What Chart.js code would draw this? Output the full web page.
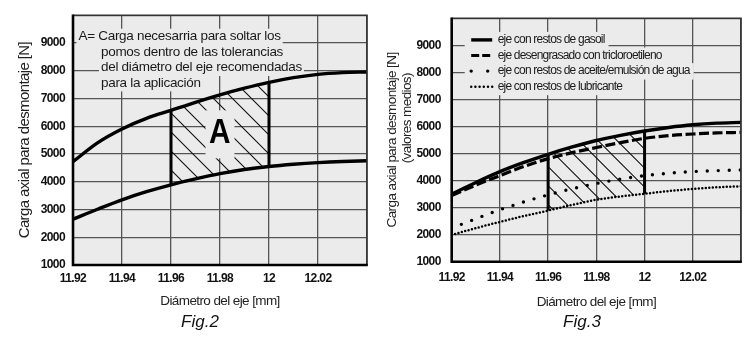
<!DOCTYPE html>
<html><head><meta charset="utf-8">
<script src="https://cdn.jsdelivr.net/npm/chart.js@4.4.1/dist/chart.umd.min.js"></script>
<style>
html,body{margin:0;padding:0;background:#fff;width:750px;height:338px;overflow:hidden;}
.wrap{position:absolute;top:0;width:375px;height:338px;}
.cap{position:absolute;top:312px;font:italic 17px "Liberation Sans",Arial,sans-serif;color:#111;transform:translateX(-50%);line-height:20px;}
</style></head><body>
<div class="wrap" style="left:0"><canvas id="c2" width="375" height="338"></canvas></div>
<div class="wrap" style="left:375px"><canvas id="c3" width="375" height="338"></canvas></div>
<div class="cap" style="left:200px">Fig.2</div>
<div class="cap" style="left:582px">Fig.3</div>
<script>
// ---- data ----
const diameters = [11.92, 11.93, 11.94, 11.95, 11.96, 11.97, 11.98, 11.99, 12.00, 12.01, 12.02, 12.03, 12.04];
const xTickValues = [11.92, 11.94, 11.96, 11.98, 12.00, 12.02, 12.04];
const xTickLabels = ['11.92', '11.94', '11.96', '11.98', '12', '12.02', ''];
const yTickValues = [1000, 2000, 3000, 4000, 5000, 6000, 7000, 8000, 9000, 10000];
const yTickLabels = ['1000', '2000', '3000', '4000', '5000', '6000', '7000', '8000', '9000', ''];

// Fig.2
const fig2Upper = [4720, 5400, 5900, 6280, 6570, 6860, 7130, 7370, 7580, 7750, 7870, 7930, 7955];
const fig2Lower = [2650, 3010, 3350, 3640, 3890, 4100, 4290, 4440, 4550, 4630, 4690, 4730, 4755];
const fig2Tolerance = [11.96, 12.00];
const fig2Note = ['A= Carga necesarria para soltar los', 'pomos dentro de las tolerancias', 'del diámetro del eje recomendadas', 'para la aplicación'];
const fig2AreaLabel = 'A';

// Fig.3
const fig3Labels = ['eje con restos de gasoil', 'eje desengrasado con tricloroetileno', 'eje con restos de aceite/emulsión de agua', 'eje con restos de lubricante'];
const fig3Gasoil = [3500, 3930, 4330, 4670, 4970, 5240, 5480, 5670, 5830, 5960, 6060, 6120, 6150];
const fig3Tricloro = [3450, 3830, 4180, 4520, 4810, 5030, 5220, 5400, 5560, 5660, 5720, 5760, 5780];
const fig3AceiteX = [11.924, 11.94, 11.96, 11.98, 12.00, 12.02, 12.04];
const fig3Aceite = [2380, 2920, 3470, 3890, 4180, 4330, 4390];
const fig3Lubricante = [1990, 2240, 2470, 2690, 2890, 3100, 3290, 3410, 3510, 3610, 3690, 3750, 3790];
const fig3Tolerance = [11.96, 12.00];
const fig3YTitle = ['Carga axial para desmontaje [N]', '(valores medios)'];

// ---- helpers ----
const SANS = "'Liberation Sans', Arial, sans-serif";
const PLOT_BG = '#ebebeb';
const LS = '-0.6px';
const pts = (xs, ys) => xs.map((x, i) => ({x, y: ys[i]}));
const vline = (x, xs, lo, hi) => { const i = xs.findIndex(v => Math.abs(v - x) < 1e-9); return [{x, y: lo[i]}, {x, y: hi[i]}]; };

function scales(opt) {
  return {
    x: {
      type: 'linear', min: xTickValues[0], max: xTickValues[xTickValues.length - 1],
      afterBuildTicks: s => { s.ticks = xTickValues.map(v => ({value: v})); },
      afterFit: s => { s.height = opt.xH; },
      grid: {color: '#555', lineWidth: 1.3, drawTicks: false},
      border: {display: false},
      ticks: {padding: opt.xPad, color: '#111', maxRotation: 0, autoSkip: false,
        font: {family: SANS, size: 12, weight: 'bold'},
        callback: (v, i) => xTickLabels[i]},
      title: {display: true, text: 'Diámetro del eje [mm]', color: '#222',
        font: {family: SANS, size: 13.5}, padding: {top: 0, bottom: opt.xTitlePad}}
    },
    y: {
      type: 'linear', min: yTickValues[0], max: yTickValues[yTickValues.length - 1],
      afterBuildTicks: s => { s.ticks = yTickValues.map(v => ({value: v})); },
      afterFit: s => { s.width = opt.yW; },
      grid: {color: '#555', lineWidth: 1.3, drawTicks: false},
      border: {display: false},
      ticks: {padding: opt.yPad, color: '#111', autoSkip: false,
        font: {family: SANS, size: 12, weight: 'bold'},
        callback: (v, i) => yTickLabels[i]},
      title: {display: true, text: opt.yTitle, color: '#222',
        font: {family: SANS, size: opt.yTitleSize, lineHeight: 1.0}, padding: {top: opt.yTitlePad, bottom: 0}}
    }
  };
}

const spacingPlugin = {
  id: 'tightText',
  beforeUpdate(c) { c.ctx.letterSpacing = LS; },
  beforeLayout(c) { c.ctx.letterSpacing = LS; },
  beforeDraw(c) { c.ctx.letterSpacing = LS; }
};

const bgPlugin = {
  id: 'plotBg',
  beforeDraw(chart) {
    const {ctx, chartArea: a} = chart;
    ctx.save(); ctx.fillStyle = PLOT_BG; ctx.fillRect(a.left, a.top, a.right - a.left, a.bottom - a.top); ctx.restore();
  },
  afterDatasetsDraw(chart) {
    const {ctx, chartArea: a} = chart;
    ctx.save();
    ctx.strokeStyle = '#333'; ctx.lineWidth = 1.6;
    ctx.beginPath(); ctx.moveTo(a.left, a.top); ctx.lineTo(a.right, a.top); ctx.lineTo(a.right, a.bottom); ctx.stroke();
    ctx.strokeStyle = '#000'; ctx.lineWidth = 2.6;
    ctx.beginPath(); ctx.moveTo(a.left, a.top - 0.8); ctx.lineTo(a.left, a.bottom); ctx.lineTo(a.right + 0.8, a.bottom); ctx.stroke();
    ctx.restore();
  }
};

function hatch(chart, upIdx, loIdx, x0, x1, spacing) {
  const {ctx, chartArea: a} = chart;
  const xs = chart.scales.x;
  const up = chart.getDatasetMeta(upIdx).dataset, lo = chart.getDatasetMeta(loIdx).dataset;
  up.updateControlPoints(a, 'x'); lo.updateControlPoints(a, 'x');
  const p0 = xs.getPixelForValue(x0), p1 = xs.getPixelForValue(x1);
  ctx.save();
  ctx.beginPath(); ctx.rect(p0, a.top, p1 - p0, a.bottom - a.top); ctx.clip();
  ctx.beginPath(); up.path(ctx); ctx.lineTo(a.right + 20, a.bottom + 20); ctx.lineTo(a.left - 20, a.bottom + 20); ctx.closePath(); ctx.clip();
  ctx.beginPath(); lo.path(ctx); ctx.lineTo(a.right + 20, a.top - 20); ctx.lineTo(a.left - 20, a.top - 20); ctx.closePath(); ctx.clip();
  const h = a.bottom - a.top;
  ctx.beginPath();
  for (let s = p0 - h; s < p1 + 5; s += spacing) { ctx.moveTo(s, a.top); ctx.lineTo(s + h, a.bottom); }
  ctx.strokeStyle = '#111'; ctx.lineWidth = 1.1; ctx.stroke();
  ctx.restore();
}

function maskText(ctx, text, x, y, padL, padR) {
  const w = ctx.measureText(text).width;
  ctx.fillStyle = PLOT_BG;
  ctx.fillRect(x - padL, y - 8, w + padL + padR, 16.5);
}

// ---- Fig.2 ----
const fig2Plugin = {
  id: 'fig2Extras',
  beforeDatasetsDraw(chart) {
    const {ctx, chartArea: a} = chart;
    const lines = fig2Note.map((t, i) => ({t, x: a.left + (i === 0 ? 5.5 : 28), y: a.top + 21.5 + i * 15.4}));
    ctx.save();
    ctx.font = '13.5px ' + SANS; ctx.letterSpacing = '-0.3px';
    lines.forEach(l => maskText(ctx, l.t, l.x, l.y, 2, 2));
    ctx.fillStyle = '#1a1a1a'; ctx.textBaseline = 'middle';
    lines.forEach(l => ctx.fillText(l.t, l.x, l.y));
    ctx.restore();
    hatch(chart, 0, 1, fig2Tolerance[0], fig2Tolerance[1], 19);
    const cx = chart.scales.x.getPixelForValue((fig2Tolerance[0] + fig2Tolerance[1]) / 2) - 0.5;
    const cy = chart.scales.y.getPixelForValue(5780);
    ctx.save();
    ctx.fillStyle = PLOT_BG; ctx.fillRect(cx - 14, cy - 22, 29, 48);
    ctx.fillStyle = '#000'; ctx.font = 'bold 35px ' + SANS; ctx.textAlign = 'center'; ctx.textBaseline = 'middle';
    ctx.fillText(fig2AreaLabel, cx, cy + 1, 21);
    ctx.restore();
  }
};

new Chart(document.getElementById('c2'), {
  type: 'line',
  data: {datasets: [
    {label: 'límite superior', data: pts(diameters, fig2Upper), borderColor: '#000', borderWidth: 3.4, pointRadius: 0, cubicInterpolationMode: 'monotone'},
    {label: 'límite inferior', data: pts(diameters, fig2Lower), borderColor: '#000', borderWidth: 3.4, pointRadius: 0, cubicInterpolationMode: 'monotone'},
    {label: 'tolerancia min', data: vline(fig2Tolerance[0], diameters, fig2Lower, fig2Upper), borderColor: '#000', borderWidth: 3, pointRadius: 0},
    {label: 'tolerancia max', data: vline(fig2Tolerance[1], diameters, fig2Lower, fig2Upper), borderColor: '#000', borderWidth: 3, pointRadius: 0}
  ]},
  options: {
    responsive: false, animation: false, devicePixelRatio: 1,
    layout: {padding: {top: 15, right: 8, bottom: 0, left: 0}},
    plugins: {legend: {display: false}, tooltip: {enabled: false}},
    scales: scales({xH: 73, yW: 73, xPad: 6, yPad: 8, xTitlePad: 29, yTitlePad: 17.5, yTitleSize: 15, yTitle: 'Carga axial para desmontaje [N]'})
  },
  plugins: [spacingPlugin, bgPlugin, fig2Plugin]
});

// ---- Fig.3 ----
const fig3Plugin = {
  id: 'fig3Extras',
  beforeDatasetsDraw(chart) {
    const {ctx, chartArea: a} = chart;
    hatch(chart, 0, 3, fig3Tolerance[0], fig3Tolerance[1], 19);
    const rowY = i => a.top + 21.7 + i * 15.6;
    const sx = a.left + 19.5, tx = a.left + 46;
    const font = '12px ' + SANS;
    ctx.save();
    ctx.font = font; ctx.letterSpacing = '-0.8px';
    fig3Labels.forEach((t, i) => maskText(ctx, t, tx, rowY(i), 33, 4));
    ctx.restore();
    chart.data.datasets.slice(0, 4).forEach((ds, i) => {
      const y = rowY(i);
      ctx.save();
      ctx.strokeStyle = '#000'; ctx.lineWidth = ds.borderWidth;
      ctx.setLineDash(ds.legendDash || ds.borderDash || []); ctx.lineCap = ds.borderCapStyle || 'butt';
      ctx.beginPath(); ctx.moveTo(sx, y); ctx.lineTo(sx + 21, y); ctx.stroke();
      ctx.setLineDash([]);
      ctx.fillStyle = '#1a1a1a'; ctx.font = font; ctx.letterSpacing = '-0.8px'; ctx.textBaseline = 'middle';
      ctx.fillText(ds.label, tx, y);
      ctx.restore();
    });
  },
  afterDraw(chart) {
    // second line of the y-axis title
    const {ctx} = chart;
    ctx.save();
    ctx.translate(32.5, chart.chartArea.top + 100);
    ctx.rotate(-Math.PI / 2);
    ctx.font = '13.5px ' + SANS; ctx.letterSpacing = LS; ctx.fillStyle = '#222';
    ctx.textAlign = 'center'; ctx.textBaseline = 'middle';
    ctx.fillText(fig3YTitle[1], 0, 0);
    ctx.restore();
  }
};

new Chart(document.getElementById('c3'), {
  type: 'line',
  data: {datasets: [
    {label: fig3Labels[0], data: pts(diameters, fig3Gasoil), borderColor: '#000', borderWidth: 3.4, pointRadius: 0, cubicInterpolationMode: 'monotone'},
    {label: fig3Labels[1], data: pts(diameters, fig3Tricloro), borderColor: '#000', borderWidth: 3.2, borderDash: [10, 3.5], legendDash: [8, 3], pointRadius: 0, cubicInterpolationMode: 'monotone'},
    {label: fig3Labels[2], data: pts(fig3AceiteX, fig3Aceite), borderColor: '#000', borderWidth: 3.4, borderDash: [0, 11], legendDash: [0, 16.5], borderCapStyle: 'round', pointRadius: 0, cubicInterpolationMode: 'monotone'},
    {label: fig3Labels[3], data: pts(diameters, fig3Lubricante), borderColor: '#000', borderWidth: 2.5, borderDash: [0, 3.5], legendDash: [0, 4.2], borderCapStyle: 'round', pointRadius: 0, cubicInterpolationMode: 'monotone'},
    {label: 'tolerancia min', data: vline(fig3Tolerance[0], diameters, fig3Lubricante, fig3Gasoil), borderColor: '#000', borderWidth: 3, pointRadius: 0},
    {label: 'tolerancia max', data: vline(fig3Tolerance[1], diameters, fig3Lubricante, fig3Gasoil), borderColor: '#000', borderWidth: 3, pointRadius: 0}
  ]},
  options: {
    responsive: false, animation: false, devicePixelRatio: 1,
    layout: {padding: {top: 15, right: 7.3, bottom: 0, left: 0}},
    plugins: {legend: {display: false}, tooltip: {enabled: false}},
    scales: scales({xH: 76.3, yW: 76.7, xPad: 9, yPad: 11, xTitlePad: 28, yTitlePad: 10.5, yTitleSize: 13.5, yTitle: fig3YTitle[0]})
  },
  plugins: [spacingPlugin, bgPlugin, fig3Plugin]
});
</script>
</body></html>
